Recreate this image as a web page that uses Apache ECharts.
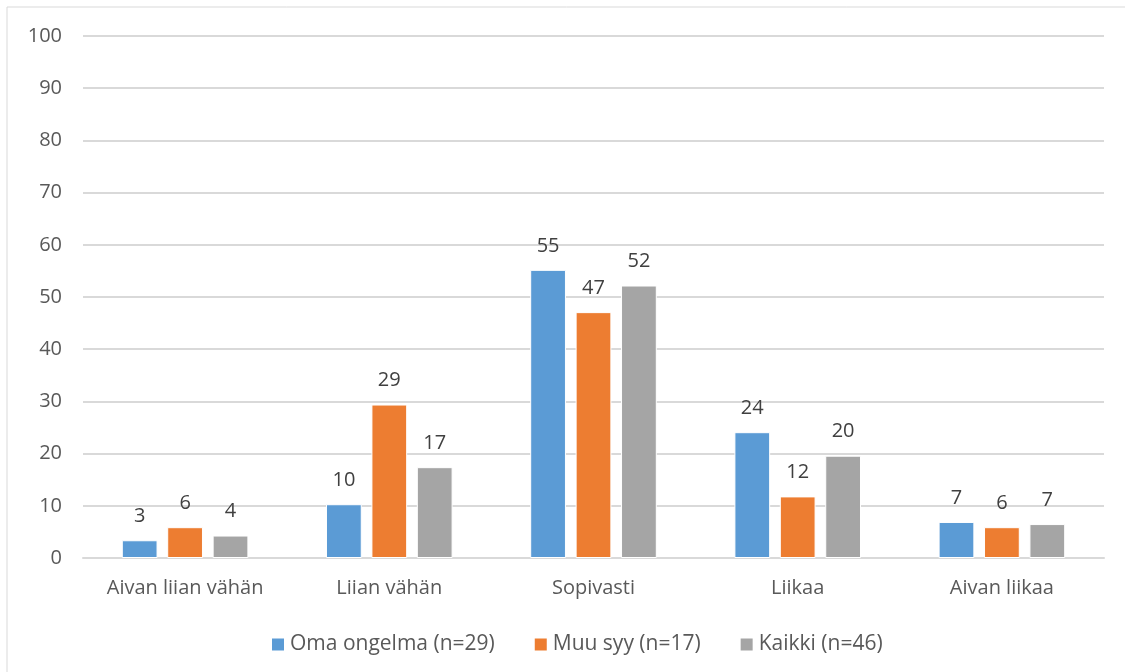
<!DOCTYPE html>
<html>
<head>
<meta charset="utf-8">
<script src="https://cdn.jsdelivr.net/npm/echarts@6/dist/echarts.min.js"></script>
<style>
  html, body { margin: 0; padding: 0; background: #fff; }
  #chart { width: 1125px; height: 672px; }
</style>
</head>
<body>
<div id="chart"></div>
<script>
// data
var categories = ['Aivan liian vähän', 'Liian vähän', 'Sopivasti', 'Liikaa', 'Aivan liikaa'];
var omaOngelma = [3.4, 10.3, 55.2, 24.1, 6.9];
var muuSyy = [5.9, 29.4, 47.1, 11.8, 5.9];
var kaikki = [4.3, 17.4, 52.2, 19.6, 6.5];
var yTicks = [0, 10, 20, 30, 40, 50, 60, 70, 80, 90, 100];

var chart = echarts.init(document.getElementById('chart'));
var font = '"Open Sans", sans-serif';

function barSeries(name, data, color) {
    return {
        name: name,
        type: 'bar',
        data: data,
        barGap: '27%',
        barCategoryGap: '38%',
        itemStyle: { color: color, borderColor: '#fff', borderWidth: 1 },
        label: {
            show: true,
            position: 'top',
            distance: 14,
            color: '#404040',
            fontFamily: font,
            fontSize: 20,
            formatter: function (p) { return Math.round(p.value); }
        }
    };
}

var option = {
    animation: false,
    graphic: [{
        type: 'rect',
        shape: { x: 7, y: 7, width: 1130, height: 680 },
        style: { fill: 'none', stroke: '#d9d9d9', lineWidth: 1 }
    }],
    grid: { left: 83, right: 21, top: 36, bottom: 114 },
    legend: {
        top: 629,
        left: 265,
        itemWidth: 14,
        itemHeight: 14,
        itemGap: 38,
        icon: 'rect',
        textStyle: { color: '#595959', fontFamily: font, fontSize: 21 },
        data: ['Oma ongelma (n=29)', 'Muu syy (n=17)', 'Kaikki (n=46)']
    },
    xAxis: {
        type: 'category',
        data: categories,
        axisTick: { show: false },
        axisLine: { lineStyle: { color: '#d9d9d9', width: 2 } },
        axisLabel: { color: '#595959', fontFamily: font, fontSize: 20, margin: 20 }
    },
    yAxis: {
        type: 'value',
        min: yTicks[0],
        max: yTicks[yTicks.length - 1],
        interval: 10,
        axisLine: { show: false },
        axisTick: { show: false },
        splitLine: { lineStyle: { color: '#d9d9d9', width: 2 } },
        axisLabel: { color: '#595959', fontFamily: font, fontSize: 20, margin: 21 }
    },
    series: [
        barSeries('Oma ongelma (n=29)', omaOngelma, '#5b9bd5'),
        barSeries('Muu syy (n=17)', muuSyy, '#ed7d31'),
        barSeries('Kaikki (n=46)', kaikki, '#a5a5a5')
    ]
};
chart.setOption(option);
</script>
</body>
</html>
